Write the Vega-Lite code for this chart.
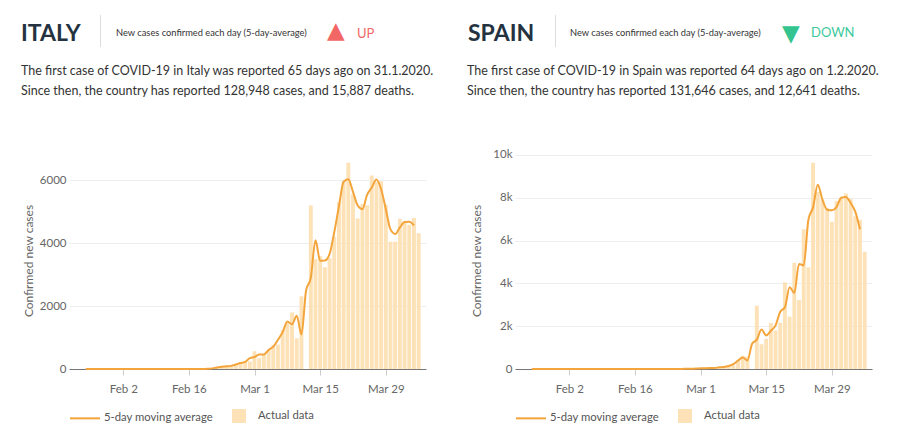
{
  "$schema": "https://vega.github.io/schema/vega-lite/v6.json",
  "background": "white",
  "padding": {"left": 21, "top": 15, "right": 10, "bottom": 5},
  "config": {
    "font": "Lato",
    "view": {"stroke": null},
    "title": {"font": "Lato"},
    "axis": {"labelFont": "Lato", "titleFont": "Lato", "labelColor": "#666", "titleColor": "#666"},
    "legend": {"labelFont": "Lato"}
  },
  "datasets": {
    "italy": [
      {"date":"2020-01-23","cases":0,"avg":null},{"date":"2020-01-24","cases":0,"avg":null},{"date":"2020-01-25","cases":0,"avg":0},{"date":"2020-01-26","cases":0,"avg":0},{"date":"2020-01-27","cases":0,"avg":0},{"date":"2020-01-28","cases":0,"avg":0},{"date":"2020-01-29","cases":0,"avg":0},{"date":"2020-01-30","cases":0,"avg":0.7},{"date":"2020-01-31","cases":2,"avg":0.7},
      {"date":"2020-02-01","cases":0,"avg":0.7},{"date":"2020-02-02","cases":0,"avg":0},{"date":"2020-02-03","cases":0,"avg":0},{"date":"2020-02-04","cases":0,"avg":0},{"date":"2020-02-05","cases":0,"avg":0},{"date":"2020-02-06","cases":0,"avg":0.3},{"date":"2020-02-07","cases":1,"avg":0.3},{"date":"2020-02-08","cases":0,"avg":0.3},{"date":"2020-02-09","cases":0,"avg":0},{"date":"2020-02-10","cases":0,"avg":0},{"date":"2020-02-11","cases":0,"avg":0},{"date":"2020-02-12","cases":0,"avg":0},{"date":"2020-02-13","cases":0,"avg":0},{"date":"2020-02-14","cases":0,"avg":0},{"date":"2020-02-15","cases":0,"avg":0},{"date":"2020-02-16","cases":0,"avg":0},{"date":"2020-02-17","cases":0,"avg":0},{"date":"2020-02-18","cases":0,"avg":0},{"date":"2020-02-19","cases":0,"avg":0},{"date":"2020-02-20","cases":0,"avg":5.7},{"date":"2020-02-21","cases":17,"avg":19.7},{"date":"2020-02-22","cases":42,"avg":50.7},{"date":"2020-02-23","cases":93,"avg":69.7},{"date":"2020-02-24","cases":74,"avg":86.7},{"date":"2020-02-25","cases":93,"avg":99.3},{"date":"2020-02-26","cases":131,"avg":142},{"date":"2020-02-27","cases":202,"avg":188.7},{"date":"2020-02-28","cases":233,"avg":225},{"date":"2020-02-29","cases":240,"avg":346.3},
      {"date":"2020-03-01","cases":566,"avg":382.7},{"date":"2020-03-02","cases":342,"avg":458},{"date":"2020-03-03","cases":466,"avg":465},{"date":"2020-03-04","cases":587,"avg":607.3},{"date":"2020-03-05","cases":769,"avg":711.3},{"date":"2020-03-06","cases":778,"avg":931.3},{"date":"2020-03-07","cases":1247,"avg":1172.3},{"date":"2020-03-08","cases":1492,"avg":1512},{"date":"2020-03-09","cases":1797,"avg":1422},{"date":"2020-03-10","cases":977,"avg":1695.7},{"date":"2020-03-11","cases":2313,"avg":1096.7},{"date":"2020-03-12","cases":0,"avg":2503.7},{"date":"2020-03-13","cases":5198,"avg":2898.3},{"date":"2020-03-14","cases":3497,"avg":4095},{"date":"2020-03-15","cases":3590,"avg":3440},{"date":"2020-03-16","cases":3233,"avg":3449.7},{"date":"2020-03-17","cases":3526,"avg":3655.3},{"date":"2020-03-18","cases":4207,"avg":4351.7},{"date":"2020-03-19","cases":5322,"avg":5171.7},{"date":"2020-03-20","cases":5986,"avg":5955},{"date":"2020-03-21","cases":6557,"avg":6034.3},{"date":"2020-03-22","cases":5560,"avg":5635.3},{"date":"2020-03-23","cases":4789,"avg":5199.3},{"date":"2020-03-24","cases":5249,"avg":5082.7},{"date":"2020-03-25","cases":5210,"avg":5537.3},{"date":"2020-03-26","cases":6153,"avg":5774},{"date":"2020-03-27","cases":5959,"avg":6028.7},{"date":"2020-03-28","cases":5974,"avg":5716.7},{"date":"2020-03-29","cases":5217,"avg":5080.3},{"date":"2020-03-30","cases":4050,"avg":4440},{"date":"2020-03-31","cases":4053,"avg":4295},
      {"date":"2020-04-01","cases":4782,"avg":4501},{"date":"2020-04-02","cases":4668,"avg":4678.3},{"date":"2020-04-03","cases":4585,"avg":4686},{"date":"2020-04-04","cases":4805,"avg":4568.7},{"date":"2020-04-05","cases":4316,"avg":null}
    ],
    "spain": [
      {"date":"2020-01-23","cases":0,"avg":null},{"date":"2020-01-24","cases":0,"avg":null},{"date":"2020-01-25","cases":0,"avg":0},{"date":"2020-01-26","cases":0,"avg":0},{"date":"2020-01-27","cases":0,"avg":0},{"date":"2020-01-28","cases":0,"avg":0},{"date":"2020-01-29","cases":0,"avg":0},{"date":"2020-01-30","cases":0,"avg":0},{"date":"2020-01-31","cases":0,"avg":0.3},
      {"date":"2020-02-01","cases":1,"avg":0.3},{"date":"2020-02-02","cases":0,"avg":0.3},{"date":"2020-02-03","cases":0,"avg":0},{"date":"2020-02-04","cases":0,"avg":0},{"date":"2020-02-05","cases":0,"avg":0},{"date":"2020-02-06","cases":0,"avg":0},{"date":"2020-02-07","cases":0,"avg":0},{"date":"2020-02-08","cases":0,"avg":0.3},{"date":"2020-02-09","cases":1,"avg":0.3},{"date":"2020-02-10","cases":0,"avg":0.3},{"date":"2020-02-11","cases":0,"avg":0},{"date":"2020-02-12","cases":0,"avg":0},{"date":"2020-02-13","cases":0,"avg":0},{"date":"2020-02-14","cases":0,"avg":0},{"date":"2020-02-15","cases":0,"avg":0},{"date":"2020-02-16","cases":0,"avg":0},{"date":"2020-02-17","cases":0,"avg":0},{"date":"2020-02-18","cases":0,"avg":0},{"date":"2020-02-19","cases":0,"avg":0},{"date":"2020-02-20","cases":0,"avg":0},{"date":"2020-02-21","cases":0,"avg":0},{"date":"2020-02-22","cases":0,"avg":0},{"date":"2020-02-23","cases":0,"avg":0},{"date":"2020-02-24","cases":0,"avg":1.3},{"date":"2020-02-25","cases":4,"avg":3.7},{"date":"2020-02-26","cases":7,"avg":4.3},{"date":"2020-02-27","cases":2,"avg":8.7},{"date":"2020-02-28","cases":17,"avg":10.7},{"date":"2020-02-29","cases":13,"avg":23},
      {"date":"2020-03-01","cases":39,"avg":29.3},{"date":"2020-03-02","cases":36,"avg":40},{"date":"2020-03-03","cases":45,"avg":46},{"date":"2020-03-04","cases":57,"avg":46.3},{"date":"2020-03-05","cases":37,"avg":78.3},{"date":"2020-03-06","cases":141,"avg":92.7},{"date":"2020-03-07","cases":100,"avg":138},{"date":"2020-03-08","cases":173,"avg":224.3},{"date":"2020-03-09","cases":400,"avg":398.3},{"date":"2020-03-10","cases":622,"avg":534.7},{"date":"2020-03-11","cases":582,"avg":401.3},{"date":"2020-03-12","cases":0,"avg":1179},{"date":"2020-03-13","cases":2955,"avg":1371.3},{"date":"2020-03-14","cases":1159,"avg":1840.3},{"date":"2020-03-15","cases":1407,"avg":1570},{"date":"2020-03-16","cases":2144,"avg":1785.7},{"date":"2020-03-17","cases":1806,"avg":2037.3},{"date":"2020-03-18","cases":2162,"avg":2673.7},{"date":"2020-03-19","cases":4053,"avg":2887.3},{"date":"2020-03-20","cases":2447,"avg":3821.3},{"date":"2020-03-21","cases":4964,"avg":3546.7},{"date":"2020-03-22","cases":3229,"avg":4908.7},{"date":"2020-03-23","cases":6533,"avg":4837},{"date":"2020-03-24","cases":4749,"avg":6970.7},{"date":"2020-03-25","cases":9630,"avg":7550},{"date":"2020-03-26","cases":8271,"avg":8611.3},{"date":"2020-03-27","cases":7933,"avg":7906.7},{"date":"2020-03-28","cases":7516,"avg":7441.3},{"date":"2020-03-29","cases":6875,"avg":7412.3},{"date":"2020-03-30","cases":7846,"avg":7562.7},{"date":"2020-03-31","cases":7967,"avg":8002.7},
      {"date":"2020-04-01","cases":8195,"avg":8036.3},{"date":"2020-04-02","cases":7947,"avg":7758.7},{"date":"2020-04-03","cases":7134,"avg":7350},{"date":"2020-04-04","cases":6969,"avg":6527},{"date":"2020-04-05","cases":5478,"avg":null}
    ]
  },
  "vconcat": [
    {
      "hconcat": [
        {"width": 31, "height": 32, "data": {"values": []}, "mark": "point",
         "title": {"text": "ITALY", "anchor": "start", "frame": "group", "orient": "top", "offset": 0, "baseline": "alphabetic", "dx": -48, "dy": 49.4, "fontSize": 23, "fontWeight": "bold", "color": "#25323f", "font": "Lato"}},
        {"width": 1, "height": 32, "view": {"fill": "#dddddd", "stroke": null}, "data": {"values": []}, "mark": "point"},
        {"width": 226, "height": 32, "data": {"values": []}, "mark": "point",
         "title": {"text": "New cases confirmed each day (5-day-average)", "anchor": "start", "frame": "group", "orient": "top", "offset": 0, "baseline": "alphabetic", "dx": 15, "dy": 30, "fontSize": 9.3, "fontWeight": "normal", "color": "#333333", "font": "Lato"}},
        {"width": 30, "height": 32, "data": {"values": []}, "mark": "point",
         "title": {"text": "▲", "anchor": "start", "frame": "group", "orient": "top", "offset": 0, "baseline": "alphabetic", "dy": 46, "fontSize": 23, "fontWeight": "normal", "color": "#f26666", "font": "DejaVu Sans"}},
        {"width": 111, "height": 32, "data": {"values": []}, "mark": "point",
         "title": {"text": "UP", "anchor": "start", "frame": "group", "orient": "top", "offset": 0, "baseline": "alphabetic", "dy": 35.5, "fontSize": 13, "fontWeight": "normal", "color": "#f26666", "font": "Lato"}},
        {"width": 87, "height": 32, "data": {"values": []}, "mark": "point",
         "title": {"text": "SPAIN", "anchor": "start", "frame": "group", "orient": "top", "offset": 0, "baseline": "alphabetic", "dy": 49.4, "fontSize": 23, "fontWeight": "bold", "color": "#25323f", "font": "Lato"}},
        {"width": 1, "height": 32, "view": {"fill": "#dddddd", "stroke": null}, "data": {"values": []}, "mark": "point"},
        {"width": 226, "height": 32, "data": {"values": []}, "mark": "point",
         "title": {"text": "New cases confirmed each day (5-day-average)", "anchor": "start", "frame": "group", "orient": "top", "offset": 0, "baseline": "alphabetic", "dx": 14, "dy": 30, "fontSize": 9.3, "fontWeight": "normal", "color": "#333333", "font": "Lato"}},
        {"width": 29, "height": 32, "data": {"values": []}, "mark": "point",
         "title": {"text": "▼", "anchor": "start", "frame": "group", "orient": "top", "offset": 0, "baseline": "alphabetic", "dy": 49, "fontSize": 23, "fontWeight": "normal", "color": "#33c490", "font": "DejaVu Sans"}},
        {"width": 50, "height": 32, "data": {"values": []}, "mark": "point",
         "title": {"text": "DOWN", "anchor": "start", "frame": "group", "orient": "top", "offset": 0, "baseline": "alphabetic", "dy": 35, "fontSize": 13, "fontWeight": "normal", "color": "#3dc99b", "font": "Lato"}}
      ],
      "spacing": 0,
      "bounds": "flush"
    },
    {
      "hconcat": [
        {
          "width": 357, "height": 217,
          "data": {"name": "italy"},
          "title": {"text": ["The first case of COVID-19 in Italy was reported 65 days ago on 31.1.2020.", "Since then, the country has reported 128,948 cases, and 15,887 deaths."], "anchor": "start", "frame": "group", "orient": "top", "dx": -48, "offset": 42, "baseline": "bottom", "lineHeight": 19.5, "fontSize": 12.5, "fontWeight": "normal", "color": "#333333", "font": "Lato"},
          "encoding": {
            "x": {"field": "date", "type": "temporal",
              "scale": {"type": "utc", "domain": [{"year": 2020, "month": 1, "date": 22, "hours": 12, "utc": true}, {"year": 2020, "month": 4, "date": 5, "hours": 12, "utc": true}]},
              "axis": {"title": null, "values": [{"year": 2020, "month": 2, "date": 2, "utc": true}, {"year": 2020, "month": 2, "date": 16, "utc": true}, {"year": 2020, "month": 3, "date": 1, "utc": true}, {"year": 2020, "month": 3, "date": 15, "utc": true}, {"year": 2020, "month": 3, "date": 29, "utc": true}],
                "format": "%b %-d", "labelAngle": 0, "labelFlush": false, "labelOverlap": false, "tickSize": 6, "tickColor": "#cccccc", "domainColor": "#777777", "grid": false, "labelPadding": 8, "labelFontSize": 11.5}}
          },
          "layer": [
            {"mark": {"type": "bar", "width": 3.9},
             "encoding": {
               "y": {"field": "cases", "type": "quantitative", "title": "Confirmed new cases", "scale": {"domain": [0, 6902], "nice": false},
                 "axis": {"values": [0, 2000, 4000, 6000], "format": "d", "grid": true, "gridColor": "#eeeeee", "domain": false, "ticks": false, "labelPadding": 3, "labelFontSize": 11.5, "titleFontSize": 12, "titleFontWeight": "normal", "titlePadding": 4}},
               "color": {"datum": "Actual data", "scale": {"domain": ["5-day moving average", "Actual data"], "range": ["#f3a43b", "#fde2b8"]},
                 "legend": {"orient": "bottom", "direction": "horizontal", "title": null, "symbolSize": 900, "labelFontSize": 11.3, "labelColor": "#555555", "labelOffset": 3, "columnPadding": 10, "offset": 5, "padding": 0,
                   "encode": {"symbols": {"update": {
                     "shape": {"signal": "datum.value === '5-day moving average' ? 'stroke' : 'M-0.4,-0.4H0.4V0.4H-0.4Z'"},
                     "fill": {"signal": "datum.value === '5-day moving average' ? 'transparent' : '#fde2b8'"},
                     "stroke": {"signal": "datum.value === '5-day moving average' ? '#f3a43b' : 'transparent'"},
                     "strokeWidth": {"value": 2}, "opacity": {"value": 1}}}}}}
             }},
            {"mark": {"type": "line", "strokeWidth": 2, "interpolate": "monotone"},
             "encoding": {
               "y": {"field": "avg", "type": "quantitative", "title": "Confirmed new cases"},
               "color": {"datum": "5-day moving average"}
             }}
          ]
        },
        {
          "width": 357, "height": 217,
          "data": {"name": "spain"},
          "title": {"text": ["The first case of COVID-19 in Spain was reported 64 days ago on 1.2.2020.", "Since then, the country has reported 131,646 cases, and 12,641 deaths."], "anchor": "start", "frame": "group", "orient": "top", "dx": -48, "offset": 38.5, "baseline": "bottom", "lineHeight": 19.5, "fontSize": 12.5, "fontWeight": "normal", "color": "#333333", "font": "Lato"},
          "encoding": {
            "x": {"field": "date", "type": "temporal",
              "scale": {"type": "utc", "domain": [{"year": 2020, "month": 1, "date": 22, "hours": 12, "utc": true}, {"year": 2020, "month": 4, "date": 5, "hours": 12, "utc": true}]},
              "axis": {"title": null, "values": [{"year": 2020, "month": 2, "date": 2, "utc": true}, {"year": 2020, "month": 2, "date": 16, "utc": true}, {"year": 2020, "month": 3, "date": 1, "utc": true}, {"year": 2020, "month": 3, "date": 15, "utc": true}, {"year": 2020, "month": 3, "date": 29, "utc": true}],
                "format": "%b %-d", "labelAngle": 0, "labelFlush": false, "labelOverlap": false, "tickSize": 6, "tickColor": "#cccccc", "domainColor": "#777777", "grid": false, "labelPadding": 8, "labelFontSize": 11.5}}
          },
          "layer": [
            {"mark": {"type": "bar", "width": 3.9},
             "encoding": {
               "y": {"field": "cases", "type": "quantitative", "title": "Confirmed new cases", "scale": {"domain": [0, 10137], "nice": false},
                 "axis": {"values": [0, 2000, 4000, 6000, 8000, 10000], "labelExpr": "datum.value == 0 ? '0' : (datum.value / 1000) + 'k'", "grid": true, "gridColor": "#eeeeee", "domain": false, "ticks": false, "labelPadding": 3, "labelFontSize": 11.5, "titleFontSize": 12, "titleFontWeight": "normal", "titlePadding": 9}},
               "color": {"datum": "Actual data", "scale": {"domain": ["5-day moving average", "Actual data"], "range": ["#f3a43b", "#fde2b8"]},
                 "legend": {"orient": "bottom", "direction": "horizontal", "title": null, "symbolSize": 900, "labelFontSize": 11.3, "labelColor": "#555555", "labelOffset": 3, "columnPadding": 10, "offset": 5, "padding": 0,
                   "encode": {"symbols": {"update": {
                     "shape": {"signal": "datum.value === '5-day moving average' ? 'stroke' : 'M-0.4,-0.4H0.4V0.4H-0.4Z'"},
                     "fill": {"signal": "datum.value === '5-day moving average' ? 'transparent' : '#fde2b8'"},
                     "stroke": {"signal": "datum.value === '5-day moving average' ? '#f3a43b' : 'transparent'"},
                     "strokeWidth": {"value": 2}, "opacity": {"value": 1}}}}}}
             }},
            {"mark": {"type": "line", "strokeWidth": 2, "interpolate": "monotone"},
             "encoding": {
               "y": {"field": "avg", "type": "quantitative", "title": "Confirmed new cases"},
               "color": {"datum": "5-day moving average"}
             }}
          ]
        }
      ],
      "spacing": 89,
      "bounds": "flush",
      "resolve": {"scale": {"color": "independent", "x": "independent", "y": "independent"}, "legend": {"color": "independent"}}
    }
  ],
  "spacing": 18
}
